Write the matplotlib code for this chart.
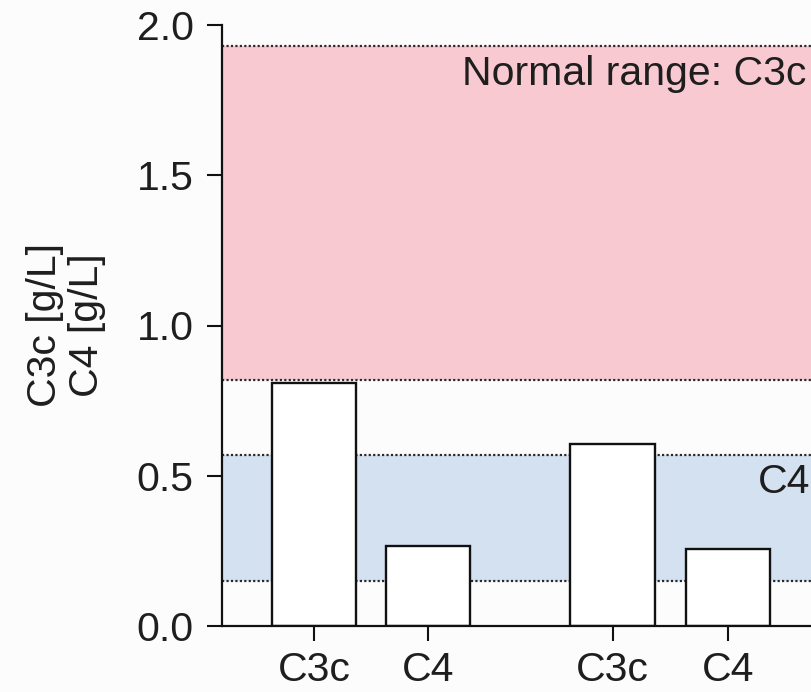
import matplotlib
matplotlib.use("Agg")
import matplotlib.pyplot as plt

# Complement levels per sample (g/L)
categories = ["C3c", "C4", "C3c", "C4"]
values = [0.81, 0.265, 0.605, 0.255]
positions = [0.0, 1.0, 2.62, 3.63]

# Reference intervals (g/L)
c3c_range = (0.82, 1.93)
c4_range = (0.15, 0.57)

yticks = [0.0, 0.5, 1.0, 1.5, 2.0]
ytick_labels = ["0.0", "0.5", "1.0", "1.5", "2.0"]

plt.rcParams["font.family"] = ["Liberation Sans", "DejaVu Sans"]
text_color = "#1e1e1e"
bg = "#fcfcfc"
fs = 29.5

fig = plt.figure(figsize=(8.12, 6.92), dpi=100, facecolor=bg)
# axes runs past the right edge of the canvas
ax = fig.add_axes([222 / 812, 66 / 692, 662 / 812, 601 / 692], facecolor=bg)

ax.set_xlim(-0.807, 5.0)
ax.set_ylim(0, 2.0)

ax.axhspan(*c3c_range, color="#f9c9d1", lw=0, zorder=0)
ax.axhspan(*c4_range, color="#d4e1f0", lw=0, zorder=0)
for yv in (*c3c_range, *c4_range):
    ax.axhline(yv, color="#2a2a2a", lw=1.6, ls=(0, (1, 1)), zorder=1)

ax.bar(positions, values, width=0.74, color="white", edgecolor="#111111",
       linewidth=1.7, zorder=2)

ax.text(1.298, 1.80, "Normal range: C3c", fontsize=fs, color=text_color,
        ha="left", va="baseline", zorder=3)
ax.text(3.895, 0.443, "C4", fontsize=fs, color=text_color,
        ha="left", va="baseline", zorder=3)

ax.set_xticks(positions)
ax.set_xticklabels(categories)
ax.set_yticks(yticks)
ax.set_yticklabels(ytick_labels)

for side in ("top", "right"):
    ax.spines[side].set_visible(False)
for side in ("left", "bottom"):
    ax.spines[side].set_linewidth(1.6)
    ax.spines[side].set_color("#111111")

ax.tick_params(axis="both", direction="out", length=10.8, width=1.5,
               color="#111111", labelsize=fs, labelcolor=text_color)
ax.tick_params(axis="y", pad=9.5)
ax.tick_params(axis="x", pad=7.5)

fig.text(66 / 812, 1 - 325 / 692, "C3c [g/L]\nC4 [g/L]", rotation=90,
         fontsize=fs, color=text_color, ha="center", va="center",
         multialignment="center", linespacing=1.12)

fig.savefig("out.png", dpi=100, facecolor=bg)
